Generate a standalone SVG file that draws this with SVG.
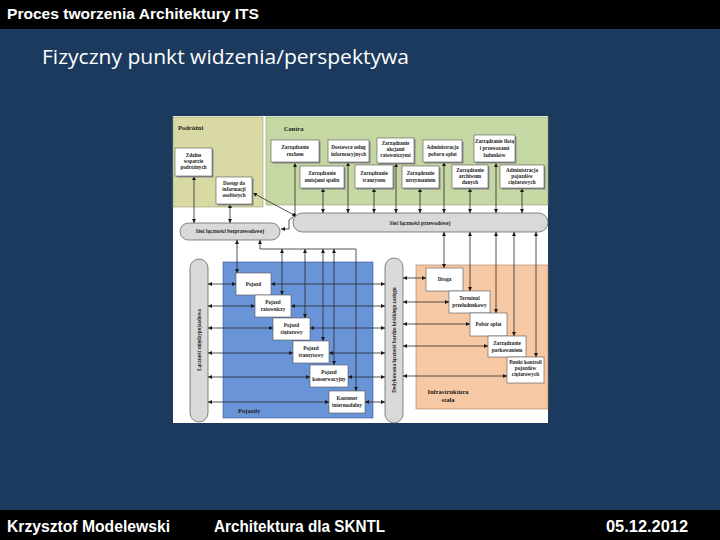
<svg xmlns="http://www.w3.org/2000/svg" width="720" height="540" viewBox="0 0 720 540">
<style>
.bar{fill:#000}
.hdr{font-family:"Liberation Sans",Arial,sans-serif;font-weight:bold;fill:#fff}
.sub{font-family:"Open Sans","Liberation Sans",sans-serif;fill:#fff}
.box{fill:#fff;stroke:#555;stroke-width:0.6}
.shd{fill:#8a8a8a}
.t{font-family:"Liberation Serif","Times New Roman",serif;font-size:5.2px;font-weight:bold;fill:#222;text-anchor:middle}
.lbl{font-family:"Liberation Serif","Times New Roman",serif;font-size:6.5px;font-weight:bold;fill:#222}
.pill{fill:#d9d9d9;stroke:#555;stroke-width:0.7}
.c{fill:none;stroke:#2a2a2a;stroke-width:0.8}
.cb{fill:none;stroke:#1c2a4a;stroke-width:0.8}
</style>
<defs>
<marker id="a" viewBox="0 0 6 6" refX="6" refY="3" markerWidth="4" markerHeight="4" markerUnits="userSpaceOnUse" orient="auto-start-reverse">
<path d="M0,0 L6,3 L0,6 Z" fill="#1a1a1a"/>
</marker>
</defs>
<rect width="720" height="540" fill="#1b3a5e"/>
<rect class="bar" x="0" y="0" width="720" height="29"/>
<text class="hdr" x="7" y="19" font-size="14" textLength="252" lengthAdjust="spacingAndGlyphs">Proces tworzenia Architektury ITS</text>
<text class="sub" x="42" y="64" font-size="20" textLength="367" lengthAdjust="spacingAndGlyphs">Fizyczny punkt widzenia/perspektywa</text>
<rect class="bar" x="0" y="510" width="720" height="30"/>
<text class="hdr" x="7" y="532" font-size="16" textLength="163" lengthAdjust="spacingAndGlyphs">Krzysztof Modelewski</text>
<text class="hdr" x="214" y="532" font-size="16" textLength="171" lengthAdjust="spacingAndGlyphs">Architektura dla SKNTL</text>
<text class="hdr" x="606" y="532" font-size="16" textLength="82" lengthAdjust="spacingAndGlyphs">05.12.2012</text>

<g id="figure">
<rect x="173" y="116" width="375" height="307" fill="#fff"/>
<rect id="podrozni-area" x="173" y="117" width="90" height="90" fill="#d8d9a3" stroke="#9a9a70" stroke-width="0.6"/>
<text class="lbl" x="178" y="130">Podróżni</text>
<rect id="centra-area" x="266" y="117" width="282" height="88" fill="#c5d7a2" stroke="#8fa070" stroke-width="0.6"/>
<text class="lbl" x="284" y="131">Centra</text>
<rect id="pojazdy-area" x="223" y="262" width="150" height="156" fill="#6a94d8" stroke="#34508a" stroke-width="0.6"/>
<text class="lbl" x="238" y="413">Pojazdy</text>
<rect id="infra-area" x="416" y="265" width="132" height="144" fill="#f7c8a4" stroke="#a07a5c" stroke-width="0.6"/>
<text class="lbl" x="448" y="394" text-anchor="middle">Infrastruktura</text>
<text class="lbl" x="448" y="402" text-anchor="middle">stała</text>
</g>

<g id="siec-przewodowa">
<rect class="pill" x="293" y="213" width="255" height="19" rx="9.5"/>
<text class="t" x="420" y="225" font-weight="normal">Sieć łączności przewodowej</text>
</g>
<g id="siec-bezprzewodowa">
<rect class="pill" x="180" y="223" width="100" height="17" rx="8.5"/>
<text class="t" x="230" y="233" font-weight="normal">Sieć łączności bezprzewodowej</text>
</g>
<g id="lacznosc-miedzypojazdowa">
<rect class="pill" x="190" y="259" width="18" height="163" rx="9"/>
<text class="t" transform="translate(201,340) rotate(-90)" font-weight="normal">Łączność międzypojazdowa</text>
</g>
<g id="dsrc">
<rect class="pill" x="385" y="258" width="18" height="165" rx="9"/>
<text class="t" transform="translate(396,340) rotate(-90)" font-weight="normal">Dedykowana łączność bardzo krótkiego zasięgu</text>
</g>

<g id="connectors">
<path class="c" d="M295,163 V215" marker-start="url(#a)"/>
<circle cx="294" cy="215" r="1.8" fill="#111"/>
<path class="c" d="M294,215 L253,193" marker-end="url(#a)"/>
<path class="c" d="M293,217 L289,220 V229 H281" marker-end="url(#a)"/>
<path class="c" d="M323,188 V213" marker-start="url(#a)" marker-end="url(#a)"/>
<path class="c" d="M348,162 V213" marker-start="url(#a)" marker-end="url(#a)"/>
<path class="c" d="M374,188 V213" marker-start="url(#a)" marker-end="url(#a)"/>
<path class="c" d="M396,163 V213" marker-start="url(#a)" marker-end="url(#a)"/>
<path class="c" d="M420,188 V213" marker-start="url(#a)" marker-end="url(#a)"/>
<path class="c" d="M444,162 V213" marker-start="url(#a)" marker-end="url(#a)"/>
<path class="c" d="M470,188 V213" marker-start="url(#a)" marker-end="url(#a)"/>
<path class="c" d="M496,163 V213" marker-start="url(#a)" marker-end="url(#a)"/>
<path class="c" d="M522,188 V213" marker-start="url(#a)" marker-end="url(#a)"/>
<path class="c" d="M194,176 V223" marker-start="url(#a)" marker-end="url(#a)"/>
<path class="c" d="M230,204 V223" marker-start="url(#a)" marker-end="url(#a)"/>
<path class="c" d="M237,240 V273" marker-start="url(#a)" marker-end="url(#a)"/>
<path class="c" d="M260,240 V249 H356 V391" marker-start="url(#a)" marker-end="url(#a)"/>
<path class="c" d="M282,249 V295" marker-start="url(#a)" marker-end="url(#a)"/>
<path class="c" d="M305,249 V318" marker-start="url(#a)" marker-end="url(#a)"/>
<path class="c" d="M323,249 V341" marker-start="url(#a)" marker-end="url(#a)"/>
<path class="c" d="M334,249 V365" marker-start="url(#a)" marker-end="url(#a)"/>
<path class="c" d="M444,232 V268" marker-start="url(#a)" marker-end="url(#a)"/>
<path class="c" d="M470,232 V291" marker-start="url(#a)" marker-end="url(#a)"/>
<path class="c" d="M496,232 V313" marker-start="url(#a)" marker-end="url(#a)"/>
<path class="c" d="M514,232 V336" marker-start="url(#a)" marker-end="url(#a)"/>
<path class="c" d="M536,232 V357" marker-start="url(#a)" marker-end="url(#a)"/>
<path class="c" d="M208,284 H236" marker-start="url(#a)" marker-end="url(#a)"/>
<path class="c" d="M208,306 H255" marker-start="url(#a)" marker-end="url(#a)"/>
<path class="c" d="M208,328 H273" marker-start="url(#a)" marker-end="url(#a)"/>
<path class="c" d="M208,353 H293" marker-start="url(#a)" marker-end="url(#a)"/>
<path class="c" d="M208,377 H310" marker-start="url(#a)" marker-end="url(#a)"/>
<path class="c" d="M208,402 H329" marker-start="url(#a)" marker-end="url(#a)"/>
<path class="c" d="M271,284 H385" marker-start="url(#a)" marker-end="url(#a)"/>
<path class="c" d="M291,306 H385" marker-start="url(#a)" marker-end="url(#a)"/>
<path class="c" d="M310,328 H385" marker-start="url(#a)" marker-end="url(#a)"/>
<path class="c" d="M329,353 H385" marker-start="url(#a)" marker-end="url(#a)"/>
<path class="c" d="M348,377 H385" marker-start="url(#a)" marker-end="url(#a)"/>
<path class="c" d="M365,402 H385" marker-start="url(#a)" marker-end="url(#a)"/>
<path class="c" d="M403,278 H426" marker-start="url(#a)" marker-end="url(#a)"/>
<path class="c" d="M403,302 H449" marker-start="url(#a)" marker-end="url(#a)"/>
<path class="c" d="M403,324 H470" marker-start="url(#a)" marker-end="url(#a)"/>
<path class="c" d="M403,346 H488" marker-start="url(#a)" marker-end="url(#a)"/>
<path class="c" d="M403,376 H507" marker-start="url(#a)" marker-end="url(#a)"/>
</g>

<g id="zdalne-wsparcie"><rect class="shd" x="176.5" y="149.5" width="37" height="28"/><rect class="box" x="175" y="148" width="37" height="28"/>
<text class="t" x="193.5" y="157">Zdalne</text><text class="t" x="193.5" y="163">wsparcie</text><text class="t" x="193.5" y="169">podróżnych</text></g>
<g id="dostep-informacji"><rect class="shd" x="217.5" y="178.5" width="36" height="27"/><rect class="box" x="216" y="177" width="36" height="27"/>
<text class="t" x="234" y="185">Dostęp do</text><text class="t" x="234" y="191">informacji</text><text class="t" x="234" y="197">osobistych</text></g>

<g id="zarzadzanie-ruchem"><rect class="shd" x="272.5" y="141.5" width="48" height="22"/><rect class="box" x="271" y="140" width="48" height="22"/>
<text class="t" x="295" y="149">Zarządzanie</text><text class="t" x="295" y="156">ruchem</text></g>
<g id="dostawca-uslug"><rect class="shd" x="329.5" y="141.5" width="41" height="22"/><rect class="box" x="328" y="140" width="41" height="22"/>
<text class="t" x="348.5" y="149">Dostawca usług</text><text class="t" x="348.5" y="156">informacyjnych</text></g>
<g id="akcje-ratownicze"><rect class="shd" x="378.5" y="139.5" width="37" height="25"/><rect class="box" x="377" y="138" width="37" height="25"/>
<text class="t" x="395.5" y="145">Zarządzanie</text><text class="t" x="395.5" y="151">akcjami</text><text class="t" x="395.5" y="157">ratowniczymi</text></g>
<g id="pobor-oplat-admin"><rect class="shd" x="424.5" y="141.5" width="39" height="22"/><rect class="box" x="423" y="140" width="39" height="22"/>
<text class="t" x="442.5" y="149">Administracja</text><text class="t" x="442.5" y="156">poboru opłat</text></g>
<g id="flota"><rect class="shd" x="475.5" y="136.5" width="41" height="27"/><rect class="box" x="474" y="135" width="41" height="27"/>
<text class="t" x="494.5" y="143">Zarządzanie flotą</text><text class="t" x="494.5" y="150">i przewozami</text><text class="t" x="494.5" y="157">ładunków</text></g>
<g id="emisje"><rect class="shd" x="301.5" y="167.5" width="44" height="22"/><rect class="box" x="300" y="166" width="44" height="22"/>
<text class="t" x="322" y="175">Zarządzanie</text><text class="t" x="322" y="182">emisjami spalin</text></g>
<g id="tranzyt"><rect class="shd" x="356.5" y="166.5" width="38" height="23"/><rect class="box" x="355" y="165" width="38" height="23"/>
<text class="t" x="374" y="175">Zarządzanie</text><text class="t" x="374" y="182">tranzytem</text></g>
<g id="utrzymanie"><rect class="shd" x="403.5" y="167.5" width="37" height="22"/><rect class="box" x="402" y="166" width="37" height="22"/>
<text class="t" x="420.5" y="175">Zarządzanie</text><text class="t" x="420.5" y="182">utrzymaniem</text></g>
<g id="archiwum"><rect class="shd" x="453.5" y="166.5" width="36" height="23"/><rect class="box" x="452" y="165" width="36" height="23"/>
<text class="t" x="470" y="172">Zarządzanie</text><text class="t" x="470" y="178">archiwum</text><text class="t" x="470" y="184">danych</text></g>
<g id="admin-ciezarowe"><rect class="shd" x="501.5" y="166.5" width="44" height="23"/><rect class="box" x="500" y="165" width="44" height="23"/>
<text class="t" x="522" y="172">Administracja</text><text class="t" x="522" y="178">pojazdów</text><text class="t" x="522" y="184">ciężarowych</text></g>

<g id="pojazd"><rect class="box" x="236" y="273" width="35" height="22"/><text class="t" x="253.5" y="286">Pojazd</text></g>
<g id="pojazd-ratowniczy"><rect class="box" x="255" y="295" width="36" height="22"/><text class="t" x="273" y="304">Pojazd</text><text class="t" x="273" y="311">ratowniczy</text></g>
<g id="pojazd-ciezarowy"><rect class="box" x="273" y="318" width="37" height="22"/><text class="t" x="291.5" y="327">Pojazd</text><text class="t" x="291.5" y="334">ciężarowy</text></g>
<g id="pojazd-tranzytowy"><rect class="box" x="293" y="341" width="36" height="22"/><text class="t" x="311" y="350">Pojazd</text><text class="t" x="311" y="357">tranzytowy</text></g>
<g id="pojazd-konserwacyjny"><rect class="box" x="310" y="365" width="38" height="22"/><text class="t" x="329" y="374">Pojazd</text><text class="t" x="329" y="381">konserwacyjny</text></g>
<g id="kontener"><rect class="box" x="329" y="391" width="36" height="22"/><text class="t" x="347" y="400">Kontener</text><text class="t" x="347" y="407">intermodalny</text></g>

<g id="droga"><rect class="box" x="426" y="268" width="37" height="23"/><text class="t" x="444.5" y="281">Droga</text></g>
<g id="terminal"><rect class="box" x="449" y="291" width="41" height="22"/><text class="t" x="469.5" y="300">Terminal</text><text class="t" x="469.5" y="307">przeładunkowy</text></g>
<g id="pobor-oplat"><rect class="box" x="470" y="313" width="37" height="23"/><text class="t" x="488.5" y="326">Pobór opłat</text></g>
<g id="parkowanie"><rect class="box" x="488" y="336" width="38" height="21"/><text class="t" x="507" y="345">Zarządzanie</text><text class="t" x="507" y="352">parkowaniem</text></g>
<g id="punkt-kontroli"><rect class="box" x="507" y="357" width="37" height="26"/><text class="t" x="525.5" y="364">Punkt kontroli</text><text class="t" x="525.5" y="370">pojazdów</text><text class="t" x="525.5" y="376">ciężarowych</text></g>
</svg>
